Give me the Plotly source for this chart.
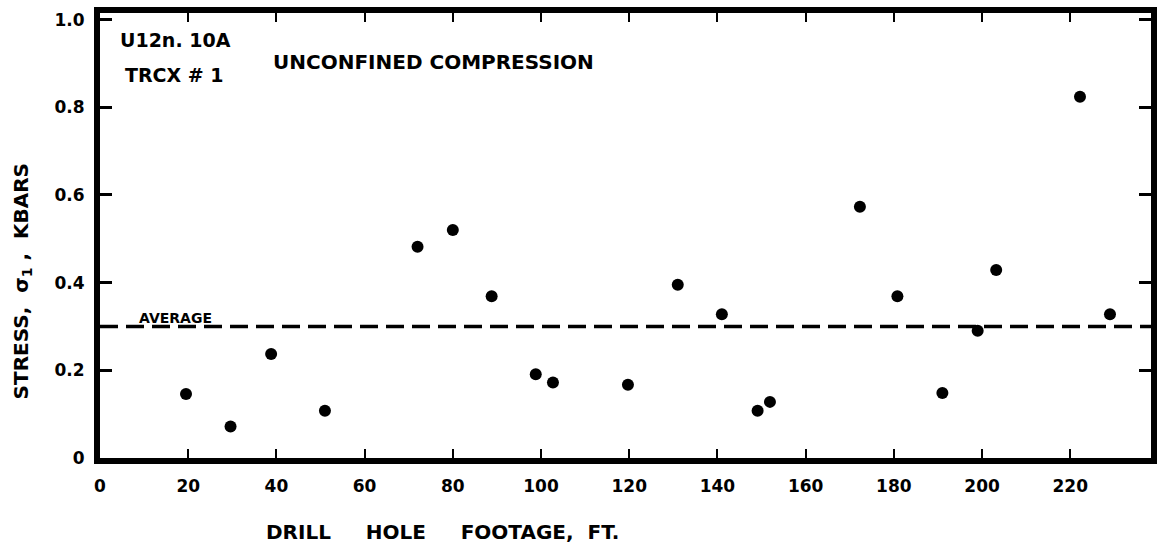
import plotly.graph_objects as go

# Unconfined compression test results along the drill hole
footage_ft = [19.5, 29.6, 38.8, 51.0, 72.0, 80.0, 88.8, 98.8, 102.7, 119.7, 131.0,
              141.0, 149.1, 151.9, 172.3, 180.8, 191.0, 199.0, 203.2, 222.2, 229.0]
stress_kbar = [0.146, 0.072, 0.237, 0.108, 0.482, 0.520, 0.369, 0.191, 0.172, 0.167, 0.395,
               0.328, 0.108, 0.128, 0.573, 0.369, 0.148, 0.290, 0.429, 0.824, 0.328]
average_stress = 0.30

x_ticks = [0, 20, 40, 60, 80, 100, 120, 140, 160, 180, 200, 220]
x_tick_labels = ["0", "20", "40", "60", "80", "100", "120", "140", "160", "180", "200", "220"]
y_ticks = [0, 0.2, 0.4, 0.6, 0.8, 1.0]
y_tick_labels = ["0", "0.2", "0.4", "0.6", "0.8", "1.0"]

X_MAX = 238.3
Y_MAX = 1.015
FONT = "DejaVu Sans"
INK = "black"

fig = go.Figure()

# dashed average line across the full width
fig.add_trace(go.Scatter(
    x=[0, X_MAX], y=[average_stress, average_stress], mode="lines",
    line=dict(color=INK, width=3.5, dash="18px,8px"),
    hoverinfo="skip", showlegend=False,
))

fig.add_trace(go.Scatter(
    x=footage_ft, y=stress_kbar, mode="markers",
    marker=dict(color=INK, size=12, line=dict(width=0)),
    showlegend=False,
))

tick_font = dict(family=FONT, size=17, color=INK, weight="bold")

# mirrored axes give the heavy top frame and the inward ticks on top and right;
# the right frame line itself sits just past the page edge
fig.update_layout(
    width=1157, height=549,
    margin=dict(l=100, r=0, t=13, b=91),
    paper_bgcolor="white", plot_bgcolor="white",
    xaxis=dict(
        range=[0, X_MAX], tickmode="array", tickvals=x_ticks, ticktext=x_tick_labels,
        ticks="inside", ticklen=9, tickwidth=2, tickcolor=INK,
        showline=True, linewidth=6, linecolor=INK, mirror="ticks",
        showgrid=False, zeroline=False, tickfont=tick_font,
        ticklabelstandoff=8,
    ),
    yaxis=dict(
        range=[0, Y_MAX], tickmode="array", tickvals=y_ticks, ticktext=y_tick_labels,
        ticks="inside", ticklen=12, tickwidth=3, tickcolor=INK,
        showline=True, linewidth=6, linecolor=INK, mirror="ticks",
        showgrid=False, zeroline=False, tickfont=tick_font,
        ticklabelstandoff=6,
    ),
    annotations=[
        dict(text="U12n. 10A", x=4.0, y=0.953, xref="x", yref="y",
             xanchor="left", yanchor="middle", showarrow=False,
             font=dict(family=FONT, size=19, color=INK, weight="bold")),
        dict(text="TRCX # 1", x=5.2, y=0.874, xref="x", yref="y",
             xanchor="left", yanchor="middle", showarrow=False,
             font=dict(family=FONT, size=19, color=INK, weight="bold")),
        dict(text="UNCONFINED COMPRESSION", x=38.8, y=0.903, xref="x", yref="y",
             xanchor="left", yanchor="middle", showarrow=False,
             font=dict(family=FONT, size=20, color=INK, weight="bold")),
        dict(text="AVERAGE", x=8.5, y=average_stress, xref="x", yref="y",
             xanchor="left", yanchor="bottom", showarrow=False, yshift=-2,
             font=dict(family=FONT, size=14, color=INK, weight="bold")),
        dict(text="DRILL\u00a0\u00a0\u00a0\u00a0\u00a0HOLE\u00a0\u00a0\u00a0\u00a0\u00a0FOOTAGE,\u00a0\u00a0FT.",
             x=0.326, y=-0.167, xref="paper", yref="paper",
             xanchor="center", yanchor="middle", showarrow=False,
             font=dict(family=FONT, size=20, color=INK, weight="bold")),
        dict(text="STRESS,\u00a0\u00a0σ<sub>1</sub>\u00a0,\u00a0\u00a0KBARS",
             x=-0.0747, y=0.398, xref="paper", yref="paper", textangle=-90,
             xanchor="center", yanchor="middle", showarrow=False,
             font=dict(family=FONT, size=20, color=INK, weight="bold")),
    ],
)

fig.write_html("out.html")
